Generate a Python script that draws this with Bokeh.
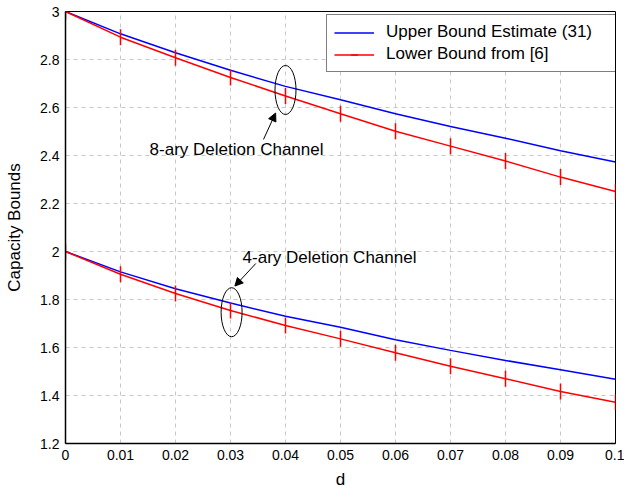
from bokeh.plotting import figure
from bokeh.models import Range1d, FixedTicker, CustomJSTickFormatter, Label, Arrow, NormalHead, Legend, LegendItem
from bokeh.embed import file_html
from bokeh.resources import INLINE

d = [0.0, 0.01, 0.02, 0.03, 0.04, 0.05, 0.06, 0.07, 0.08, 0.09, 0.10]
upper8 = [3.0, 2.907, 2.828, 2.755, 2.688, 2.632, 2.574, 2.521, 2.472, 2.420, 2.373]
lower8 = [3.0, 2.893, 2.807, 2.725, 2.648, 2.574, 2.501, 2.439, 2.377, 2.310, 2.250]
upper4 = [2.0, 1.915, 1.845, 1.785, 1.730, 1.684, 1.632, 1.588, 1.546, 1.507, 1.468]
lower4 = [2.0, 1.905, 1.825, 1.754, 1.692, 1.636, 1.578, 1.522, 1.470, 1.417, 1.372]

x_ticks = [0.0, 0.01, 0.02, 0.03, 0.04, 0.05, 0.06, 0.07, 0.08, 0.09, 0.10]
y_ticks = [1.2, 1.4, 1.6, 1.8, 2.0, 2.2, 2.4, 2.6, 2.8, 3.0]

legend_labels = ["Upper Bound Estimate (31)", "Lower Bound from [6]"]
notes = ["8-ary Deletion Channel", "4-ary Deletion Channel"]

FONT = "Liberation Sans"

p = figure(width=624, height=491, output_backend="svg", toolbar_location=None,
           x_range=Range1d(0, 0.1), y_range=Range1d(1.2, 3.0))
p.min_border_left = 65
p.min_border_right = 9
p.min_border_top = 11
p.min_border_bottom = 48
p.background_fill_color = "white"
p.border_fill_color = "white"
p.outline_line_color = "black"
p.outline_line_width = 1

fmt = CustomJSTickFormatter(code="return String(Number(tick.toFixed(2)));")
for ax, ticks in ((p.xaxis[0], x_ticks), (p.yaxis[0], y_ticks)):
    ax.ticker = FixedTicker(ticks=ticks)
    ax.formatter = fmt
    ax.major_tick_in = 0
    ax.major_tick_out = 0
    ax.minor_tick_in = 0
    ax.minor_tick_out = 0
    ax.axis_line_color = "black"
    ax.axis_line_width = 1.5
    ax.major_label_text_font = FONT
    ax.major_label_text_font_size = "14px"
    ax.major_label_text_color = "black"
    ax.axis_label_text_font = FONT
    ax.axis_label_text_font_size = "17px"
    ax.axis_label_text_font_style = "normal"
    ax.axis_label_text_color = "black"

p.xaxis.axis_label = "d"
p.yaxis.axis_label = "Capacity Bounds"
p.xaxis.major_label_standoff = 6
p.yaxis.major_label_standoff = 6
p.xaxis.axis_label_standoff = 7
p.yaxis.axis_label_standoff = 13

for g in (p.xgrid[0], p.ygrid[0]):
    g.grid_line_color = "#c8c8c8"
    g.grid_line_dash = "4 4"
    g.grid_line_width = 1

r_u8 = p.line(d, upper8, line_color="#0000ff", line_width=1.5)
r_l8 = p.line(d, lower8, line_color="#ff0000", line_width=1.5)
r_m8 = p.scatter(d, lower8, marker="dash", angle=1.5708, size=16, line_color="#ff0000", line_width=1.5)
r_u4 = p.line(d, upper4, line_color="#0000ff", line_width=1.5)
r_l4 = p.line(d, lower4, line_color="#ff0000", line_width=1.5)
r_m4 = p.scatter(d, lower4, marker="dash", angle=1.5708, size=16, line_color="#ff0000", line_width=1.5)

# annotations: ellipses, arrows, texts
p.ellipse(x=[0.04, 0.0302], y=[2.673, 1.747], width=21, height=49,
          width_units="screen", height_units="screen",
          fill_color=None, line_color="black", line_width=1)

p.add_layout(Arrow(end=NormalHead(size=8, fill_color="black", line_color="black"),
                   x_start=0.0360, y_start=2.467, x_end=0.0382, y_end=2.577,
                   line_color="black", line_width=1))
p.add_layout(Arrow(end=NormalHead(size=8, fill_color="black", line_color="black"),
                   x_start=0.0346, y_start=1.950, x_end=0.0308, y_end=1.856,
                   line_color="black", line_width=1))

p.add_layout(Label(x=0.0311, y=2.425, text=notes[0], text_font=FONT, text_font_size="17px",
                   text_align="center", text_baseline="middle", text_color="black"))
p.add_layout(Label(x=0.0480, y=1.976, text=notes[1], text_font=FONT, text_font_size="17px",
                   text_align="center", text_baseline="middle", text_color="black"))

legend = Legend(items=[LegendItem(label=legend_labels[0], renderers=[r_u8]),
                       LegendItem(label=legend_labels[1], renderers=[r_l8, r_m8])],
                location=(261, 371))
legend.label_text_font = FONT
legend.label_text_font_size = "17px"
legend.label_text_color = "black"
legend.glyph_width = 40
legend.glyph_height = 17
legend.label_height = 17
legend.label_width = 222
legend.spacing = 2
legend.padding = 7
legend.margin = 0
legend.label_standoff = 12
legend.border_line_color = "black"
legend.border_line_width = 1
legend.background_fill_color = "white"
legend.background_fill_alpha = 1
p.add_layout(legend)

open("out.html", "w").write(file_html(p, INLINE))
